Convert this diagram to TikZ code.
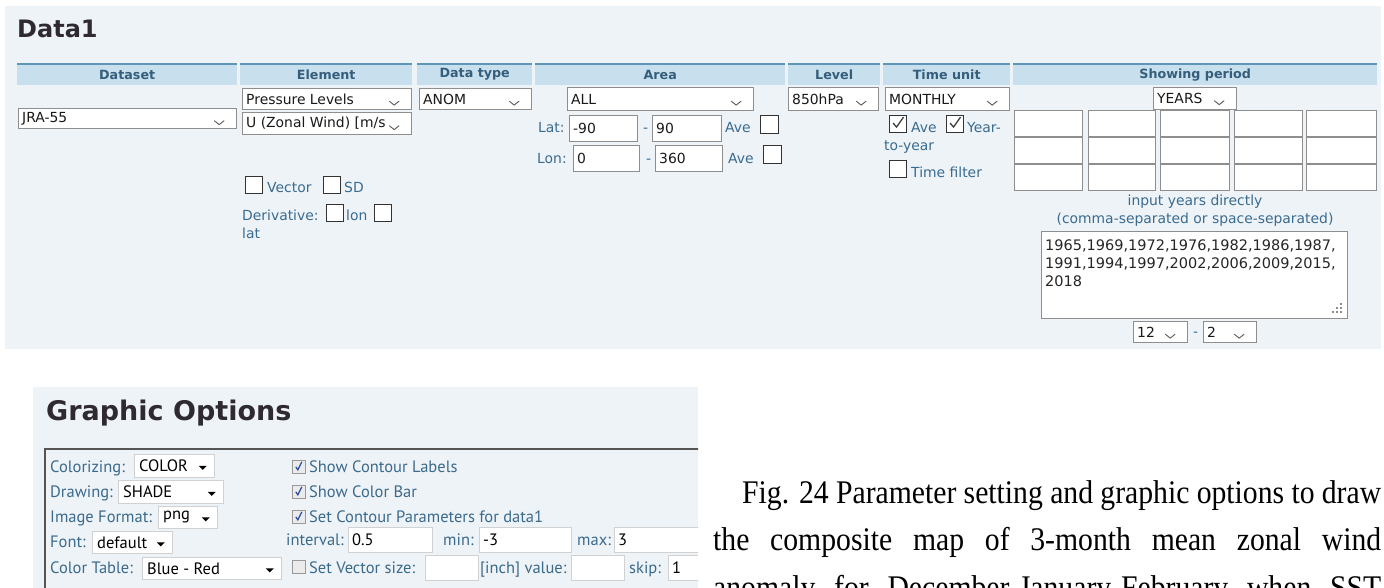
\documentclass[tikz,border=0pt]{standalone}
\usepackage{fontspec}
\setmainfont{Liberation Serif}
\newfontfamily\uifont{DejaVu Sans}
\newfontfamily\optfont{PT Sans}
\newfontfamily\capfont[FakeStretch=0.9]{Liberation Serif}
\usetikzlibrary{positioning}
\definecolor{panelbg}{HTML}{EEF3F7}
\definecolor{headfill}{HTML}{C8E0ED}
\definecolor{headline}{HTML}{5F96B8}
\definecolor{headtext}{HTML}{355E7C}
\definecolor{lblblue}{HTML}{3A6B90}
\definecolor{boxgray}{HTML}{8E8E8E}
\definecolor{titlegray}{HTML}{2F2A31}
\definecolor{optblue}{HTML}{3B6A8C}
\definecolor{optline}{HTML}{555555}
\definecolor{checkblue}{HTML}{2B4F9E}

\newcommand{\field}[6]{%
  \node[ddbox, minimum width=#4, minimum height=#5] (#1) at (#2,#3) {};
  \node[valtext, anchor=west] (#1-v) at ([xshift=4pt]#1.west) {#6};}
\newcommand{\dropdown}[6]{%
  \field{#1}{#2}{#3}{#4}{#5}{#6}
  \draw[chevron] ([xshift=-23pt,yshift=-2pt]#1.east) -- ++(5,4) -- ++(5,-4);}
\newcommand{\optdrop}[6]{%
  \node[optbox, minimum width=#4, minimum height=#5] (#1) at (#2,#3) {};
  \node[optval, anchor=west] (#1-v) at ([xshift=5pt]#1.west) {#6};
  \fill ([xshift=-16pt]#1.east) -- ++(8,0) -- ++(-4,4) -- cycle;}
\newcommand{\optfield}[6]{%
  \node[optbox, minimum width=#4, minimum height=#5] (#1) at (#2,#3) {};
  \node[optval, anchor=west] (#1-v) at ([xshift=4pt]#1.west) {#6};}

\begin{document}
\begin{tikzpicture}[x=1pt,y=-1pt]
\tikzset{ddbox/.style={draw=boxgray, fill=white, line width=1.2pt, anchor=north west, inner sep=0pt}}
\tikzset{chkbox/.style={draw=black!80, fill=white, line width=1.1pt, anchor=north west, inner sep=0pt, minimum size=17pt}}
\tikzset{hdcell/.style={fill=headfill, anchor=north west, minimum height=21pt, inner sep=0pt, text=headtext, font=\uifont\bfseries\fontsize{12.7}{14}\selectfont}}
\tikzset{valtext/.style={inner sep=0pt, font=\uifont\fontsize{13.9}{16}\selectfont, text=black!90}}
\tikzset{lbltext/.style={inner sep=0pt, anchor=base west, font=\uifont\fontsize{13.9}{16}\selectfont, text=lblblue}}
\tikzset{chevron/.style={draw=black!65, line width=0.9pt}}
\tikzset{tick/.style={draw=black!75, line width=1.3pt}}
\tikzset{optbox/.style={draw=black!18, fill=white, line width=0.8pt, anchor=north west, inner sep=0pt}}
\tikzset{optval/.style={inner sep=0pt, font=\optfont\fontsize{16.5}{19}\selectfont, text=black}}
\tikzset{optlbl/.style={inner sep=0pt, anchor=base west, font=\optfont\fontsize{16.5}{19}\selectfont, text=optblue}}
\tikzset{optchk/.style={draw=black!40, fill=black!8, line width=0.6pt, anchor=north west, inner sep=0pt, minimum size=13pt}}
\tikzset{captext/.style={anchor=base west, inner sep=0pt, font=\capfont\fontsize{33}{36}\selectfont}}

\path[use as bounding box] (0,0) rectangle (1384,587);
\clip (0,0) rectangle (1384,587);
\fill[white] (0,0) rectangle (1384,587);
\fill[panelbg] (5,6) rectangle (1381,349);
\node[anchor=base west, inner sep=0pt, text=titlegray, font=\uifont\bfseries\fontsize{24}{28}\selectfont] (data1) at (17,37) {Data1};

\foreach \nm/\cx/\cw/\lbl in {dataset/17/220/Dataset, element/240/172/Element, dtype/417/115/Data type, area/535/250/Area, level/788/92/Level, tunit/883/127/Time unit, period/1013/364/Showing period}
{\node[hdcell, minimum width=\cw] (\nm) at (\cx,64) {\lbl};
 \draw[headline, line width=1.5pt] (\nm.north west) -- (\nm.north east);}

\dropdown{jra}{18}{108}{218}{20}{JRA-55}
\dropdown{plev}{242}{88}{169}{21}{Pressure Levels}
\dropdown{uwind}{242}{112}{169}{22}{U (Zonal Wind) [m/s}
\dropdown{anom}{419}{88}{112}{21}{ANOM}
\dropdown{allarea}{567}{87}{186}{23}{ALL}
\dropdown{lev}{788}{87}{90}{23}{850hPa}
\dropdown{monthly}{885}{87}{124}{23}{MONTHLY}
\dropdown{years}{1153}{87}{83}{22}{YEARS}

\node[chkbox] (vecchk) at (245,176) {};
\node[lbltext] (veclbl) at (267,192) {Vector};
\node[chkbox] (sdchk) at (323,176) {};
\node[lbltext] (sdlbl) at (344,192) {SD};
\node[lbltext] (derlbl) at (242,220) {Derivative:};
\node[chkbox] (dlonchk) at (326,204) {};
\node[lbltext] (dlonlbl) at (346,220) {lon};
\node[chkbox] (dlatchk) at (374,204) {};
\node[lbltext] (dlatlbl) at (242,238) {lat};

\node[lbltext] (latlbl) at (538,132) {Lat:};
\field{latmin}{569}{115}{68}{26}{-90}
\node[lbltext] (latdash) at (643,132) {-};
\field{latmax}{652}{115}{69}{26}{90}
\node[lbltext] (latave) at (725,132) {Ave};
\node[chkbox, minimum size=18pt] (latavechk) at (760,115) {};
\node[lbltext] (lonlbl) at (537,163) {Lon:};
\field{lonmin}{573}{145}{66}{26}{0}
\node[lbltext] (londash) at (646,163) {-};
\field{lonmax}{655}{145}{67}{26}{360}
\node[lbltext] (lonave) at (728,163) {Ave};
\node[chkbox, minimum size=18pt] (lonavechk) at (763,145) {};

\node[chkbox] (tuave) at (889,115) {};
\draw[tick] ([xshift=-5pt,yshift=1pt]tuave.center) -- ++(3.5,4) -- ++(7,-10);
\node[lbltext] (tuavelbl) at (911,132) {Ave};
\node[chkbox] (tuyy) at (946,115) {};
\draw[tick] ([xshift=-5pt,yshift=1pt]tuyy.center) -- ++(3.5,4) -- ++(7,-10);
\node[lbltext] (tuyylbl) at (967,132) {Year-};
\node[lbltext] (tuyylbl2) at (884,150) {to-year};
\node[chkbox] (tufilt) at (889,160) {};
\node[lbltext] (tufiltlbl) at (911,177) {Time filter};

\foreach \cx/\cw [count=\i] in {1014/68,1088/67,1160/69,1234/68,1306/70}
 \foreach \ry [count=\j] in {110,137,164}
  \node[ddbox, minimum width=\cw, minimum height=26] (yr-\i-\j) at (\cx,\ry) {};
\node[lbltext, anchor=base] (hint1) at (1195,205) {input years directly};
\node[lbltext, anchor=base] (hint2) at (1195,223) {(comma-separated or space-separated)};
\node[ddbox, minimum width=306, minimum height=87] (yearlist) at (1041,231) {};
\foreach \yl/\yb/\ytxt in {yl1/250/{1965,1969,1972,1976,1982,1986,1987,}, yl2/268/{1991,1994,1997,2002,2006,2009,2015,}, yl3/286/{2018}}
  \node[anchor=base west, inner sep=0pt, font=\uifont\fontsize{14.5}{17}\selectfont, text=black!85] (\yl) at (1045,\yb) {\ytxt};
\foreach \gx/\gy in {1340/313,1336/313,1332/313,1340/309,1336/309,1340/305}
  \fill[black!45] (\gx,\gy) rectangle ++(1.6,-1.6);
\dropdown{mstart}{1133}{321}{54}{21}{12}
\node[lbltext] (mdash) at (1193,336) {-};
\dropdown{mend}{1203}{321}{53}{21}{2}

\begin{scope}
\clip (33,387) rectangle (698,590);
\fill[panelbg] (33,387) rectangle (698,590);
\node[anchor=base west, inner sep=0pt, text=titlegray, font=\uifont\bfseries\fontsize{27}{30}\selectfont] (gopt) at (46,420) {Graphic Options};
\draw[optline, line width=1.5pt] (45,600) -- (45,449) -- (700,449);
\node[optlbl] (colzlbl) at (50,472) {Colorizing:};
\optdrop{colorizing}{134}{454}{80}{23}{COLOR}
\node[optlbl] (drwlbl) at (50,497) {Drawing:};
\optdrop{drawing}{118}{480}{105}{23}{SHADE}
\node[optlbl] (imflbl) at (50,522) {Image Format:};
\optdrop{imgfmt}{158}{506}{59}{22}{png}
\node[optlbl] (fntlbl) at (50,547) {Font:};
\optdrop{fontsel}{92}{531}{80}{22}{default}
\node[optlbl] (ctablbl) at (50,573) {Color Table:};
\optdrop{ctable}{142}{557}{139}{22}{Blue - Red}
\foreach \nm/\cy/\lbl in {cntlbl/460/Show Contour Labels, cbar/485/Show Color Bar, cntpar/510/Set Contour Parameters for data1}
{\node[optchk] (\nm) at (292,\cy) {};
 \draw[checkblue, line width=1.2pt] ([xshift=-3pt]\nm.center) -- ++(2,3) -- ++(4,-8);
 \node[optlbl] (\nm-l) at (309,{\cy+12}) {\lbl};}
\node[optlbl] (intlbl) at (286,545) {interval:};
\optfield{intv}{348}{527}{84}{25}{0.5}
\node[optlbl] (minlbl) at (443,545) {min:};
\optfield{minv}{479}{527}{92}{25}{-3}
\node[optlbl] (maxlbl) at (577,545) {max:};
\optfield{maxv}{614}{527}{100}{25}{3}
\node[optchk] (vecsize) at (292,560) {};
\node[optlbl] (vecsizelbl) at (309,573) {Set Vector size:};
\optfield{vsize}{425}{555}{53}{25}{}
\node[optlbl] (vvallbl) at (480,573) {[inch] value:};
\optfield{vval}{571}{555}{53}{25}{}
\node[optlbl] (skiplbl) at (629,573) {skip:};
\optfield{skipv}{668}{555}{50}{25}{1}
\end{scope}

\node[captext] (cap1) at (742,503) {\makebox[639pt][s]{Fig. 24 Parameter setting and graphic options to draw}};
\node[captext] (cap2) at (713,550) {\makebox[668pt][s]{the composite map of 3-month mean zonal wind}};
\node[captext] (cap3) at (713,598) {\makebox[668pt][s]{anomaly for December-January-February when SST}};
\end{tikzpicture}
\end{document}
